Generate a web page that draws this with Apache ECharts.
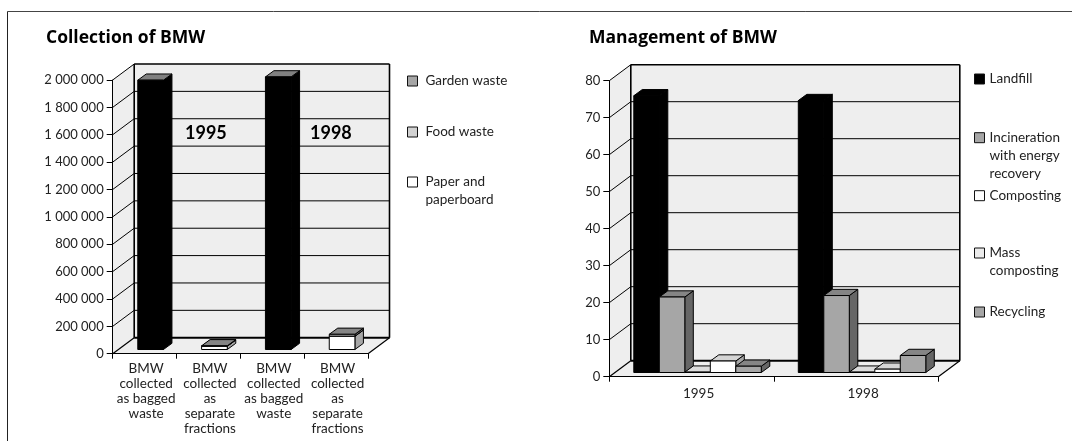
<!DOCTYPE html>
<html>
<head>
<meta charset="utf-8">
<style>
  html, body { margin: 0; padding: 0; background: #fff; }
  #chart { width: 1072px; height: 441px; }
</style>
</head>
<body>
<div id="chart"></div>
<script src="https://cdn.jsdelivr.net/npm/echarts@6/dist/echarts.min.js"></script>
<script>
// left chart data
const collectionCats = [
  'BMW\ncollected\nas bagged\nwaste',
  'BMW\ncollected\nas\nseparate\nfractions',
  'BMW\ncollected\nas bagged\nwaste',
  'BMW\ncollected\nas\nseparate\nfractions',
]
const collectionTicks = [0, 200000, 400000, 600000, 800000, 1000000, 1200000, 1400000, 1600000, 1800000, 2000000]
const baggedWaste = [1968000, 0, 1992000, 0]
const paperWaste = [0, 24000, 0, 97000]
const foodWaste = [0, 0, 0, 0]
const gardenWaste = [0, 3000, 0, 14000]

// right chart data
const managementCats = ['1995', '1998']
const managementTicks = [0, 10, 20, 30, 40, 50, 60, 70, 80]
const landfill = [74.8, 73.5]
const incineration = [20.4, 20.8]
const massComposting = [0.1, 0.1]
const composting = [3.1, 0.9]
const recycling = [1.7, 4.6]

const FONT = 'Lato'
const TITLE_FONT = 'Open Sans'
const TEXT = '#222'
const WALL = '#eeeeee'
// how far the back wall sits from the front plane, and the bars inside that depth
const DEPTH = [21.5, -16]
const BAR_INSET = [6, -4.2]
const BAR_DEPTH = [8.5, -6.2]

const look = {
  black: { front: '#000', top: '#000', side: '#000' },
  bagged: { front: '#000', top: '#808080', side: '#000' },
  grey: { front: '#a6a6a6', top: '#858585', side: '#666' },
  pale: { front: '#d2d2d2', top: '#b0b0b0', side: '#909090' },
  light: { front: '#ebebeb', top: '#dcdcdc', side: '#aaa' },
  white: { front: '#fff', top: '#d4d4d4', side: '#a6a6a6' },
}

function wallsSeries (idx, ticks) {
  return {
    type: 'custom',
    name: 'walls' + idx,
    xAxisIndex: idx,
    yAxisIndex: idx,
    silent: true,
    data: [[0, 0]],
    renderItem (params, api) {
      const c = params.coordSys
      const [dx, dy] = DEPTH
      const l = c.x, r = c.x + c.width, t = c.y, b = c.y + c.height
      const edge = { stroke: '#000', lineWidth: 1 }
      const poly = pts => ({ type: 'polygon', shape: { points: pts }, style: { fill: WALL, stroke: null } })
      const line = (x1, y1, x2, y2, w) => ({
        type: 'line',
        shape: { x1, y1, x2, y2 },
        style: { ...edge, lineWidth: w || 1 },
      })
      const children = [
        poly([[l + dx, t + dy], [r + dx, t + dy], [r + dx, b + dy], [l + dx, b + dy]]),
        poly([[l, t], [l + dx, t + dy], [l + dx, b + dy], [l, b]]),
        poly([[l, b], [l + dx, b + dy], [r + dx, b + dy], [r, b]]),
      ]
      ticks.forEach(v => {
        const y = api.coord([0, v])[1]
        if (v > 0) {
          children.push(line(l, y, l + dx, y + dy))
          if (y !== t) children.push(line(l + dx, y + dy, r + dx, y + dy))
        }
      })
      children.push(line(l + dx, t + dy, r + dx, t + dy, 1.6))
      children.push(line(r + dx, t + dy, r + dx, b + dy, 1.6))
      children.push(line(l + dx, t + dy, l + dx, b + dy, 1.6))
      children.push(line(l + dx, b + dy, r + dx, b + dy, 2))
      children.push(line(l, b, l + dx, b + dy, 1.2))
      children.push(line(r, b, r + dx, b + dy, 1.2))
      return { type: 'group', children }
    },
  }
}

// one 3D box per data row: [category, from, to]
function boxSeries (name, idx, rows, colors, slot, slots, ratio) {
  return {
    type: 'custom',
    name,
    xAxisIndex: idx,
    yAxisIndex: idx,
    silent: true,
    data: rows,
    encode: { x: 0, y: [1, 2] },
    itemStyle: { color: colors.front },
    renderItem (params, api) {
      const cat = api.value(0)
      const from = api.value(1)
      const to = api.value(2)
      if (from === to) return null
      const lo = api.coord([cat, from])
      const hi = api.coord([cat, to])
      const w = api.size([1, 0])[0] * ratio
      const x0 = lo[0] - slots * w / 2 + slot * w + BAR_INSET[0]
      const x1 = x0 + w
      const yb = lo[1] + BAR_INSET[1]
      const yt = hi[1] + BAR_INSET[1]
      const [dx, dy] = BAR_DEPTH
      const face = (pts, fill) => ({
        type: 'polygon',
        shape: { points: pts },
        style: { fill, stroke: '#000', lineWidth: 1 },
      })
      return {
        type: 'group',
        children: [
          face([[x1, yb], [x1 + dx, yb + dy], [x1 + dx, yt + dy], [x1, yt]], colors.side),
          face([[x0, yt], [x1, yt], [x1 + dx, yt + dy], [x0 + dx, yt + dy]], colors.top),
          face([[x0, yb], [x1, yb], [x1, yt], [x0, yt]], colors.front),
        ],
      }
    },
  }
}

function stacked (parts) {
  const base = parts[0].map(() => 0)
  return parts.map(vals => vals.map((v, i) => {
    const row = [i, base[i], base[i] + v]
    base[i] += v
    return row
  }))
}

// legend entry whose swatch lines up with the first text line, centred on y
const LEGEND_LINE = 18
function legendItem (name, fill, left, y, gap) {
  const lines = name.split('\n').length
  return {
    left,
    top: y - (2 * lines - 1) * LEGEND_LINE / 2,
    padding: 0,
    orient: 'vertical',
    selectedMode: false,
    itemWidth: 10,
    itemHeight: 10,
    // blank lines above keep the first line level with the swatch
    formatter: n => '\n'.repeat(lines - 1) + n,
    textStyle: {
      fontFamily: FONT,
      fontSize: 13.5,
      color: TEXT,
      lineHeight: LEGEND_LINE,
      padding: [0, 0, 0, gap],
    },
    data: [{
      name,
      icon: 'rect',
      itemStyle: { color: fill, borderColor: '#111', borderWidth: 1 },
    }],
  }
}

const xAxisBase = {
  type: 'category',
  axisLine: { onZero: false, lineStyle: { color: '#000', width: 1.2 } },
  axisTick: { show: true, length: 5, alignWithLabel: false, lineStyle: { color: '#000' } },
  splitLine: { show: false },
  z: 3,
}
const xLabelBase = { interval: 0, fontFamily: FONT, fontSize: 13.5, color: TEXT, lineHeight: 14.8, margin: 8 }
const yAxisBase = {
  type: 'value',
  min: 0,
  axisLine: { show: true, lineStyle: { color: '#000', width: 1 } },
  axisTick: { show: true, length: 6, lineStyle: { color: '#000' } },
  axisLabel: { fontFamily: FONT, fontSize: 13, color: TEXT, margin: 9, hideOverlap: false },
  splitLine: { show: false },
  z: 3,
}

const leftRows = stacked([baggedWaste, paperWaste, foodWaste, gardenWaste])
const rightRows = [landfill, incineration, massComposting, composting, recycling]
  .map(vals => vals.map((v, i) => [i, 0, v]))

const names = {
  incineration: 'Incineration\nwith energy\nrecovery',
  mass: 'Mass\ncomposting',
  paper: 'Paper and\npaperboard',
}

const titleStyle = { fontFamily: TITLE_FONT, fontSize: 17.5, fontWeight: 'bold', color: '#000' }
const yearStyle = { fontFamily: FONT, fontSize: 18, fontWeight: 'bold', color: '#000' }

const option = {
  animation: false,
  backgroundColor: '#fff',
  title: [
    { text: 'Collection of BMW', left: 46, top: 29, padding: 0, textStyle: titleStyle },
    { text: 'Management of BMW', left: 589, top: 29, padding: 0, textStyle: titleStyle },
    { text: '1995', left: 185, top: 124, padding: 0, textStyle: yearStyle },
    { text: '1998', left: 310, top: 124, padding: 0, textStyle: yearStyle },
  ],
  grid: [
    { left: 112.7, top: 80, width: 255.3, height: 273.7 },
    { left: 609.3, top: 80.7, width: 329, height: 296 },
  ],
  xAxis: [
    { ...xAxisBase, gridIndex: 0, data: collectionCats, axisLabel: { ...xLabelBase, padding: [0, 0, 0, 3] } },
    { ...xAxisBase, gridIndex: 1, data: managementCats, axisLabel: { ...xLabelBase, margin: 10, padding: [0, 0, 0, 14] } },
  ],
  yAxis: [
    {
      ...yAxisBase,
      gridIndex: 0,
      max: 2000000,
      interval: 200000,
      axisLabel: {
        ...yAxisBase.axisLabel,
        formatter: v => String(v).replace(/\B(?=(\d{3})+$)/g, ' '),
      },
    },
    { ...yAxisBase, gridIndex: 1, max: 80, interval: 10 },
  ],
  legend: [
    legendItem('Garden waste', look.grey.front, 407, 81, 3),
    legendItem('Food waste', look.pale.front, 407, 132, 3),
    legendItem(names.paper, look.white.front, 407, 182, 3),
    legendItem('Landfill', look.black.front, 974, 79, 0),
    legendItem(names.incineration, look.grey.front, 974, 137.7, 0),
    legendItem('Composting', look.white.front, 974, 195.7, 0),
    legendItem(names.mass, look.light.front, 974, 253, 0),
    legendItem('Recycling', look.grey.front, 974, 312, 0),
  ],
  graphic: [
    // frame around the figure: top and left only
    { type: 'line', shape: { x1: 7.5, y1: 11.5, x2: 1072, y2: 11.5 }, style: { stroke: '#444', lineWidth: 1 } },
    { type: 'line', shape: { x1: 7.5, y1: 11.5, x2: 7.5, y2: 441 }, style: { stroke: '#222', lineWidth: 1 } },
  ],
  series: [
    wallsSeries(0, collectionTicks),
    boxSeries('Bagged waste', 0, leftRows[0], look.bagged, 0, 1, 0.402),
    boxSeries(names.paper, 0, leftRows[1], look.white, 0, 1, 0.402),
    boxSeries('Food waste', 0, leftRows[2], look.pale, 0, 1, 0.402),
    boxSeries('Garden waste', 0, leftRows[3], look.grey, 0, 1, 0.402),
    wallsSeries(1, managementTicks),
    boxSeries('Landfill', 1, rightRows[0], look.black, 0, 5, 0.155),
    boxSeries(names.incineration, 1, rightRows[1], look.grey, 1, 5, 0.155),
    boxSeries(names.mass, 1, rightRows[2], look.light, 2, 5, 0.155),
    boxSeries('Composting', 1, rightRows[3], look.white, 3, 5, 0.155),
    boxSeries('Recycling', 1, rightRows[4], look.grey, 4, 5, 0.155),
  ],
}

const chart = echarts.init(document.getElementById('chart'), null, { renderer: 'canvas' })
chart.setOption(option)
</script>
</body>
</html>
